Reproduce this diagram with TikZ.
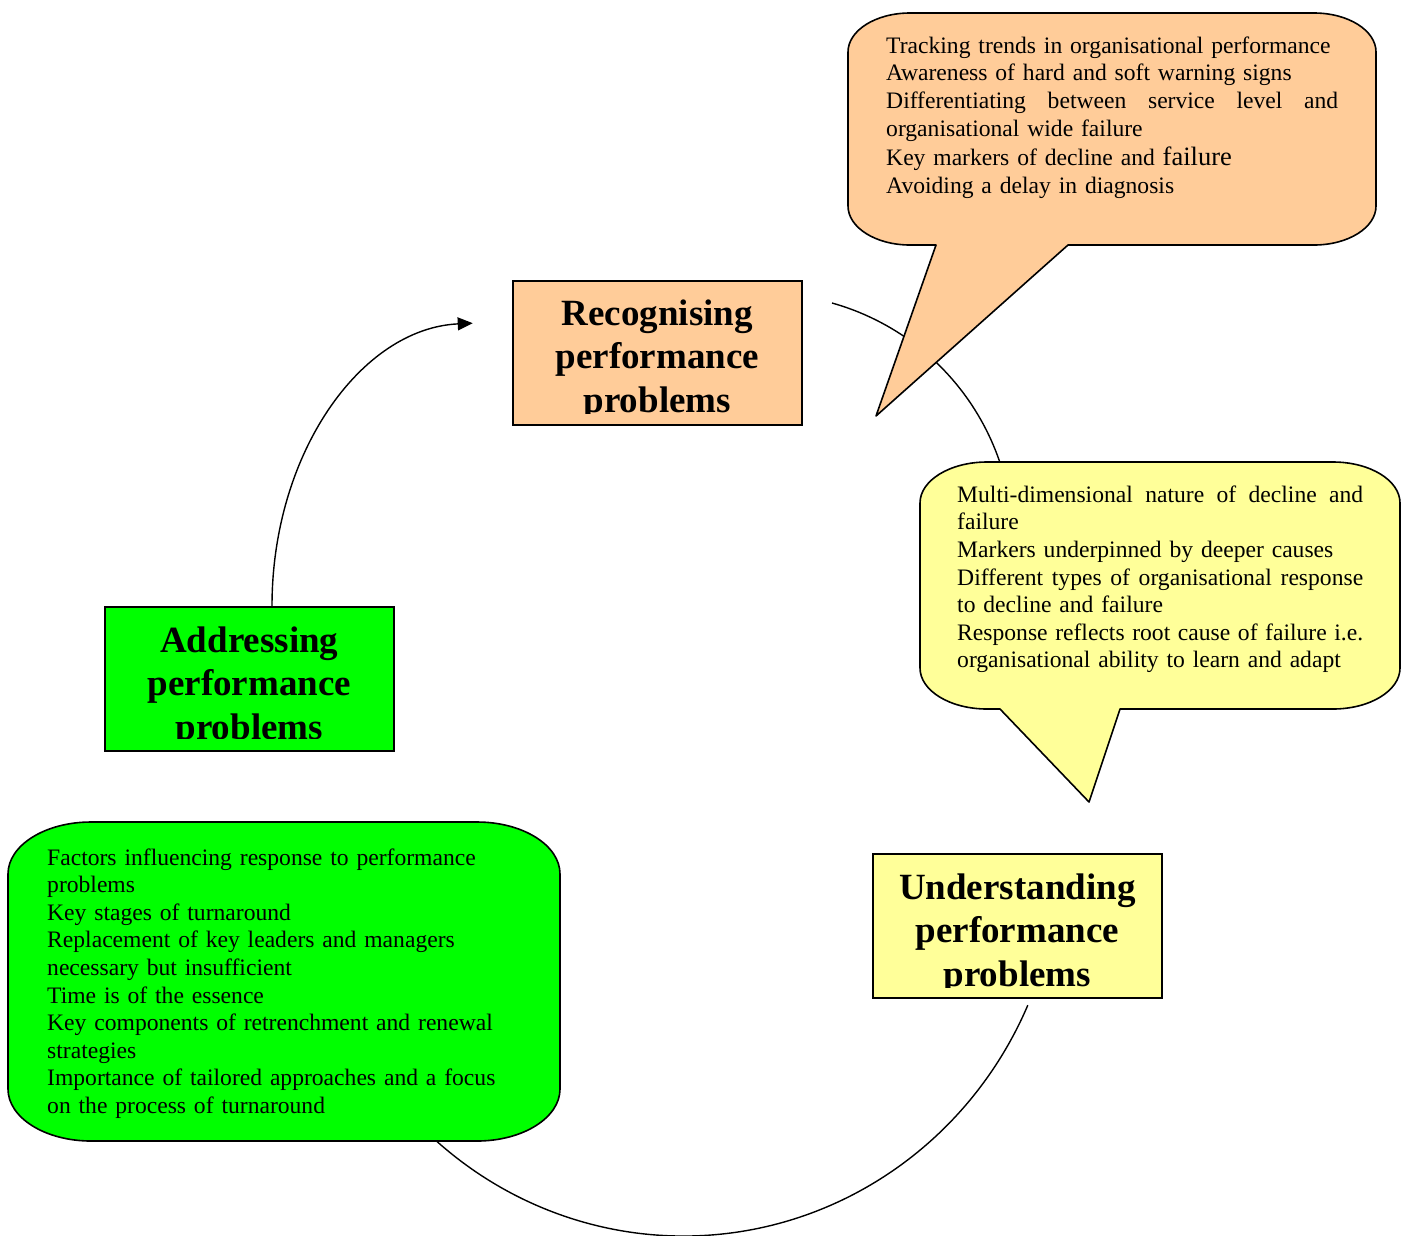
\documentclass[tikz,border=0pt]{standalone}
\usepackage{fontspec}
\setmainfont{Liberation Serif}
\usetikzlibrary{arrows.meta}
\definecolor{peach}{HTML}{FFCC99}
\definecolor{paleyellow}{HTML}{FFFF99}
\definecolor{brightgreen}{HTML}{00FF00}
\newcommand{\spreadline}[2]{\leavevmode\hbox to #1{#2}}
\begin{document}
\begin{tikzpicture}[x=1pt,y=1pt,
  stagebox/.style={draw=black, line width=1.6pt, inner sep=0pt, minimum width=289pt, minimum height=144pt, anchor=north west},
  stagetext/.style={font=\fontsize{37}{43.5}\selectfont\bfseries, align=center, text width=289pt, inner sep=0pt, anchor=base},
  bubble/.style={draw=black, line width=1.6pt, line join=round},
  bubbletext/.style={font=\fontsize{23.6}{27.6}\selectfont, align=left, inner sep=0pt, anchor=base west},
  cyclearc/.style={draw=black, line width=1.4pt}
]
\useasboundingbox (0,0) rectangle (1407,-1235);

% cycle connectors (drawn first, partly hidden by callouts)
\coordinate (arrowstart) at (272,-606);
\coordinate (arcTwoStart) at (832,-303);
\coordinate (arcThreeStart) at (1027.8,-1005.2);
\draw[cyclearc, -{Triangle[length=15pt,width=13pt]}] (arrowstart) arc[start angle=180, end angle=92, x radius=208pt, y radius=283pt];
\draw[cyclearc] (arcTwoStart) arc[start angle=74.3, end angle=-10, radius=248pt];
\draw[cyclearc] (arcThreeStart) arc[start angle=-23.7, end angle=-135, x radius=376pt, y radius=386pt];

% stage boxes
\node[stagebox, fill=peach] (rec) at (512,-280) {};
\node[stagebox, fill=brightgreen] (add) at (104,-606) {};
\node[stagebox, fill=paleyellow] (und) at (872,-853) {};

\begin{scope}
\clip (rec.north west) rectangle ([yshift=12.5pt]rec.south east);
\node[stagetext] (rectxt) at ([yshift=-45pt]rec.north) {Recognising\\performance\\problems};
\end{scope}
\begin{scope}
\clip (add.north west) rectangle ([yshift=13pt]add.south east);
\node[stagetext] (addtxt) at ([yshift=-46pt]add.north) {Addressing\\performance\\problems};
\end{scope}
\begin{scope}
\clip (und.north west) rectangle ([yshift=11.5pt]und.south east);
\node[stagetext] (undtxt) at ([yshift=-46pt]und.north) {Understanding\\performance\\problems};
\end{scope}

% orange callout
\draw[bubble, fill=peach] (910,-13) -- (1314,-13)
  arc[start angle=90, end angle=0, x radius=62pt, y radius=39pt] -- (1376,-206)
  arc[start angle=0, end angle=-90, x radius=62pt, y radius=39pt] -- (1068,-245)
  -- (876,-416) -- (936,-245) -- (910,-245)
  arc[start angle=270, end angle=180, x radius=62pt, y radius=39pt] -- (848,-52)
  arc[start angle=180, end angle=90, x radius=62pt, y radius=39pt] -- cycle;
\node[bubbletext, text width=453pt] (ortext) at (886,-53.3) {Tracking trends in organisational performance\\
Awareness of hard and soft warning signs\\
\spreadline{452pt}{Differentiating\hfill between\hfill service\hfill level\hfill and}\\
organisational wide failure\\[2pt]
Key markers of decline and {\fontsize{26.5}{27.6}\selectfont failure}\\
Avoiding a delay in diagnosis};

% yellow callout
\draw[bubble, fill=paleyellow] (987,-462) -- (1333,-462)
  arc[start angle=90, end angle=0, x radius=67pt, y radius=41pt] -- (1400,-668)
  arc[start angle=0, end angle=-90, x radius=67pt, y radius=41pt] -- (1120,-709)
  -- (1089,-802) -- (1000,-709) -- (987,-709)
  arc[start angle=270, end angle=180, x radius=67pt, y radius=41pt] -- (920,-503)
  arc[start angle=180, end angle=90, x radius=67pt, y radius=41pt] -- cycle;
\node[bubbletext, text width=407pt] (yetext) at (957,-502.3) {\spreadline{406pt}{Multi-dimensional\hfill nature\hfill of\hfill decline\hfill and}\\
failure\\
Markers underpinned by deeper causes\\
\spreadline{406pt}{Different\hfill types\hfill of\hfill organisational\hfill response}\\
to decline and failure\\
\spreadline{406pt}{Response\hfill reflects\hfill root\hfill cause\hfill of\hfill failure\hfill i.e.}\\
organisational ability to learn and adapt};

% green callout
\draw[bubble, fill=brightgreen] (91,-822) -- (477,-822)
  arc[start angle=90, end angle=0, x radius=83pt, y radius=52pt] -- (560,-1089)
  arc[start angle=0, end angle=-90, x radius=83pt, y radius=52pt] -- (91,-1141)
  arc[start angle=270, end angle=180, x radius=83pt, y radius=52pt] -- (8,-874)
  arc[start angle=180, end angle=90, x radius=83pt, y radius=52pt] -- cycle;
\node[bubbletext, text width=470pt] (grtext) at (47,-865) {Factors influencing response to performance\\
problems\\
Key stages of turnaround\\
Replacement of key leaders and managers\\
necessary but insufficient\\
Time is of the essence\\
Key components of retrenchment and renewal\\
strategies\\
Importance of tailored approaches and a focus\\
on the process of turnaround};
\end{tikzpicture}
\end{document}
